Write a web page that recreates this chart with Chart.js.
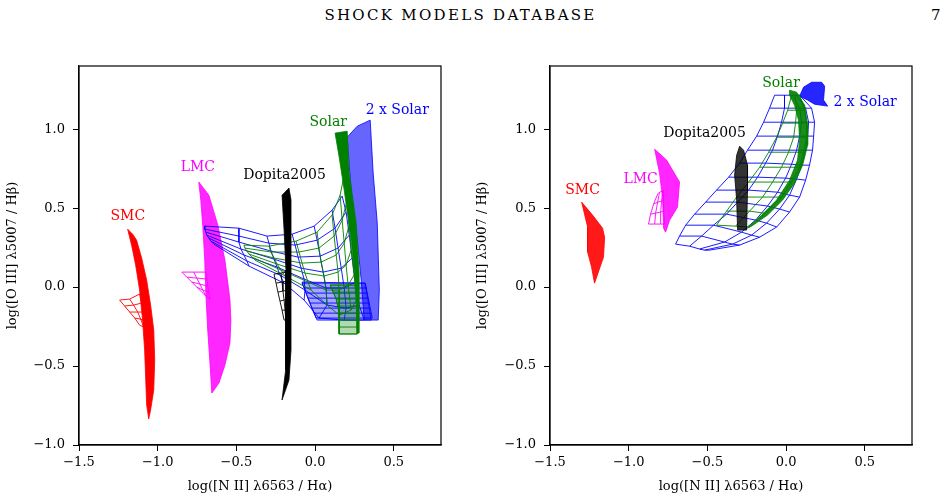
<!DOCTYPE html>
<html>
<head>
<meta charset="utf-8">
<script src="https://cdn.jsdelivr.net/npm/chart.js@4.4.0/dist/chart.umd.min.js"></script>
<style>
  body { margin: 0; background: #fff; width: 947px; height: 501px; overflow: hidden; position: relative; font-family: 'DejaVu Serif', serif; }
  #head { position: absolute; top: 8px; left: 0; width: 921px; text-align: center; font-size: 15px; line-height: 15px; letter-spacing: 2.3px; }
  #page { position: absolute; top: 8px; left: 931px; font-size: 15px; line-height: 15px; }
  .box { position: absolute; top: 0; height: 501px; }
</style>
</head>
<body>
<div id="head">SHOCK MODELS DATABASE</div>
<div id="page">7</div>
<div class="box" style="left:0;width:470px"><canvas id="left"></canvas></div>
<div class="box" style="left:470px;width:477px"><canvas id="right"></canvas></div>
<script>
// axis ticks
var xTicks = [-1.5, -1.0, -0.5, 0.0, 0.5];
var yTicks = [-1.0, -0.5, 0.0, 0.5, 1.0];

// model labels
var tagNames = ['SMC', 'LMC', 'Dopita2005', 'Solar', '2 x Solar'];
var tagColors = ['#ff0000', '#ff00ff', '#000000', '#008000', '#0000ff'];
var leftTagPos = [[-1.19, 0.45], [-0.745, 0.76], [-0.194, 0.709], [0.083, 1.044], [0.522, 1.12]];
var rightTagPos = [[-1.293, 0.614], [-0.924, 0.684], [-0.518, 0.975], [-0.032, 1.291], [0.502, 1.171]];

// ---- left panel ----
var smcBandL = [[-1.191,0.367],[-1.166,0.266],[-1.140,0.139],[-1.115,-0.019],[-1.096,-0.209],[-1.083,-0.399],[-1.076,-0.589],[-1.070,-0.747],[-1.057,-0.835],[-1.045,-0.778],[-1.025,-0.652],[-1.019,-0.462],[-1.025,-0.272],[-1.045,-0.114],[-1.070,0.044],[-1.102,0.184],[-1.134,0.297],[-1.159,0.335]];
var smcWingL = [
  [[-1.242,-0.082],[-1.178,-0.076],[-1.115,-0.044]],
  [[-1.210,-0.120],[-1.153,-0.114],[-1.102,-0.101]],
  [[-1.178,-0.158],[-1.127,-0.158],[-1.089,-0.158]],
  [[-1.146,-0.196],[-1.108,-0.203],[-1.083,-0.215]],
  [[-1.115,-0.241],[-1.089,-0.253],[-1.076,-0.278]]
];
var lmcBandL = [[-0.739,0.665],[-0.726,0.551],[-0.713,0.380],[-0.701,0.171],[-0.694,-0.038],[-0.682,-0.272],[-0.669,-0.462],[-0.656,-0.671],[-0.611,-0.608],[-0.573,-0.494],[-0.541,-0.354],[-0.535,-0.209],[-0.541,-0.082],[-0.573,0.171],[-0.618,0.392],[-0.675,0.582]];
var lmcWingL = [
  [[-0.847,0.095],[-0.771,0.095],[-0.694,0.095]],
  [[-0.815,0.063],[-0.752,0.057],[-0.688,0.051]],
  [[-0.783,0.032],[-0.732,0.019],[-0.682,0.006]],
  [[-0.752,0.000],[-0.713,-0.019],[-0.675,-0.032]],
  [[-0.720,-0.032],[-0.694,-0.057],[-0.669,-0.076]]
];
var dopBandL = [[-0.210,0.582],[-0.197,0.361],[-0.185,0.108],[-0.185,-0.146],[-0.185,-0.335],[-0.191,-0.525],[-0.210,-0.715],[-0.166,-0.589],[-0.153,-0.399],[-0.153,-0.209],[-0.153,0.044],[-0.153,0.297],[-0.153,0.551],[-0.166,0.627]];
var dopMeshL = [
  [[-0.261,0.082],[-0.217,0.089],[-0.172,0.095]],
  [[-0.248,0.025],[-0.210,0.032],[-0.172,0.038]],
  [[-0.236,-0.032],[-0.204,-0.025],[-0.172,-0.019]],
  [[-0.223,-0.089],[-0.197,-0.082],[-0.172,-0.076]],
  [[-0.210,-0.146],[-0.191,-0.146],[-0.172,-0.139]],
  [[-0.197,-0.209],[-0.185,-0.209],[-0.172,-0.203]]
];
var blueMeshL = [
  [[-0.701,0.386],[-0.484,0.373],[-0.306,0.323],[-0.146,0.335],[-0.006,0.386],[0.108,0.487],[0.172,0.576]],
  [[-0.701,0.367],[-0.484,0.323],[-0.293,0.278],[-0.127,0.266],[0.013,0.297],[0.127,0.373],[0.197,0.475]],
  [[-0.694,0.348],[-0.484,0.285],[-0.280,0.228],[-0.108,0.190],[0.032,0.196],[0.146,0.247],[0.217,0.329]],
  [[-0.688,0.329],[-0.471,0.241],[-0.261,0.177],[-0.089,0.120],[0.051,0.095],[0.166,0.120],[0.236,0.184]],
  [[-0.675,0.310],[-0.452,0.203],[-0.242,0.127],[-0.070,0.051],[0.070,-0.006],[0.185,-0.006],[0.255,0.032]],
  [[-0.662,0.291],[-0.433,0.165],[-0.223,0.076],[-0.064,-0.019],[0.076,-0.114],[0.197,-0.133],[0.280,-0.114]],
  [[-0.643,0.272],[-0.420,0.133],[-0.197,0.025],[-0.070,-0.082],[0.025,-0.196],[0.185,-0.209],[0.312,-0.209]]
];
var blueStripL = [[0.204,0.949],[0.229,0.614],[0.268,0.297],[0.293,0.044],[0.312,-0.209],[0.401,-0.209],[0.408,-0.019],[0.395,0.405],[0.369,0.722],[0.350,1.057],[0.268,1.019]];
var blueBlockL = [[-0.083,0.032],[-0.051,-0.057],[-0.019,-0.139],[0.013,-0.209],[0.357,-0.209],[0.318,0.025]];
var blueBlockEdgeA = [[-0.083,0.025],[-0.070,-0.006],[-0.057,-0.038],[-0.045,-0.070],[-0.032,-0.101],[-0.019,-0.133],[-0.006,-0.165],[0.006,-0.196]];
var blueBlockEdgeB = [[0.318,0.025],[0.325,-0.006],[0.331,-0.038],[0.338,-0.070],[0.344,-0.101],[0.350,-0.133],[0.357,-0.165],[0.363,-0.196]];
var greenMeshL = [
  [[-0.452,0.266],[-0.293,0.259],[-0.121,0.291],[0.013,0.348],[0.108,0.456],[0.159,0.582],[0.185,0.709]],
  [[-0.446,0.247],[-0.280,0.222],[-0.102,0.222],[0.025,0.247],[0.121,0.323],[0.172,0.424],[0.204,0.551]],
  [[-0.433,0.228],[-0.261,0.184],[-0.083,0.152],[0.038,0.158],[0.134,0.203],[0.185,0.278],[0.217,0.392]],
  [[-0.420,0.209],[-0.242,0.146],[-0.064,0.089],[0.057,0.070],[0.146,0.095],[0.197,0.139],[0.229,0.234]],
  [[-0.401,0.190],[-0.217,0.108],[-0.045,0.032],[0.070,-0.019],[0.153,-0.019],[0.210,0.013],[0.248,0.076]],
  [[-0.382,0.171],[-0.191,0.070],[-0.025,-0.019],[0.076,-0.114],[0.153,-0.177],[0.229,-0.146],[0.261,-0.082]]
];
var greenStripL = [[0.127,0.975],[0.153,0.823],[0.185,0.614],[0.229,0.297],[0.261,-0.019],[0.268,-0.291],[0.280,-0.291],[0.280,0.089],[0.261,0.405],[0.217,0.722],[0.204,0.987]];
var greenBlockL = [[0.096,0.013],[0.134,-0.076],[0.153,-0.165],[0.153,-0.297],[0.268,-0.297],[0.261,0.013]];
var greenBlockEdgeA = [[0.096,0.013],[0.115,-0.032],[0.134,-0.076],[0.146,-0.120],[0.153,-0.165],[0.153,-0.209],[0.153,-0.253],[0.153,-0.297]];
var greenBlockEdgeB = [[0.261,0.013],[0.261,-0.032],[0.268,-0.076],[0.268,-0.120],[0.268,-0.165],[0.268,-0.209],[0.268,-0.253],[0.268,-0.297]];

// ---- right panel ----
var smcBandR = [[-1.299,0.538],[-1.261,0.380],[-1.261,0.222],[-1.236,0.127],[-1.217,0.025],[-1.160,0.190],[-1.153,0.316],[-1.166,0.373],[-1.230,0.456]];
var lmcBandR = [[-0.835,0.873],[-0.759,0.804],[-0.677,0.665],[-0.690,0.506],[-0.740,0.424],[-0.766,0.348],[-0.778,0.373],[-0.785,0.570],[-0.804,0.722]];
var lmcWingR = [
  [[-0.874,0.399],[-0.835,0.399],[-0.797,0.399],[-0.772,0.399]],
  [[-0.861,0.462],[-0.829,0.468],[-0.797,0.475],[-0.778,0.481]],
  [[-0.842,0.525],[-0.816,0.538],[-0.791,0.544],[-0.778,0.551]],
  [[-0.816,0.589],[-0.804,0.601],[-0.785,0.608],[-0.778,0.614]]
];
var dopBandR = [[-0.295,0.892],[-0.270,0.867],[-0.245,0.772],[-0.245,0.614],[-0.251,0.361],[-0.308,0.361],[-0.314,0.551],[-0.327,0.709],[-0.314,0.835]];
var blueInnerR = [[-0.073,1.215],[-0.105,1.133],[-0.143,1.044],[-0.187,0.956],[-0.245,0.867],[-0.295,0.785],[-0.365,0.696],[-0.442,0.614],[-0.511,0.538],[-0.581,0.462],[-0.638,0.392],[-0.677,0.323],[-0.702,0.272]];
var blueMid1R = [[-0.010,1.215],[-0.010,1.133],[-0.029,1.044],[-0.054,0.956],[-0.086,0.867],[-0.130,0.785],[-0.181,0.696],[-0.238,0.614],[-0.308,0.538],[-0.378,0.462],[-0.461,0.392],[-0.537,0.323],[-0.613,0.259]];
var blueMid2R = [[0.041,1.215],[0.086,1.133],[0.098,1.044],[0.086,0.956],[0.067,0.867],[0.035,0.778],[-0.003,0.690],[-0.054,0.601],[-0.118,0.513],[-0.194,0.424],[-0.283,0.348],[-0.391,0.285],[-0.550,0.241]];
var blueMid3R = [[0.067,1.215],[0.124,1.133],[0.143,1.044],[0.137,0.956],[0.124,0.867],[0.098,0.772],[0.067,0.684],[0.022,0.582],[-0.041,0.494],[-0.124,0.405],[-0.219,0.329],[-0.340,0.272],[-0.518,0.234]];
var blueOuterR = [[0.086,1.215],[0.162,1.133],[0.181,1.044],[0.175,0.956],[0.168,0.867],[0.149,0.772],[0.124,0.677],[0.086,0.570],[0.022,0.475],[-0.060,0.380],[-0.168,0.316],[-0.295,0.266],[-0.486,0.234]];
var blueKnobR = [[0.086,1.209],[0.111,1.266],[0.162,1.297],[0.226,1.297],[0.245,1.272],[0.238,1.184],[0.264,1.146],[0.181,1.158],[0.137,1.184]];
var greenLeftR = [[0.035,1.215],[0.010,1.120],[-0.022,1.038],[-0.060,0.949],[-0.111,0.854],[-0.168,0.759],[-0.238,0.665],[-0.314,0.570],[-0.378,0.481],[-0.442,0.392]];
var greenMidR = [[0.060,1.215],[0.067,1.120],[0.060,1.038],[0.048,0.949],[0.016,0.854],[-0.029,0.759],[-0.086,0.665],[-0.149,0.570],[-0.232,0.481],[-0.321,0.386]];
var greenRightR = [[0.086,1.215],[0.118,1.120],[0.130,1.038],[0.130,0.949],[0.111,0.854],[0.086,0.759],[0.035,0.665],[-0.029,0.570],[-0.137,0.468],[-0.245,0.380]];
var greenStripR = [[0.022,1.247],[0.067,1.234],[0.118,1.152],[0.137,1.025],[0.137,0.899],[0.105,0.772],[0.054,0.658],[-0.022,0.551],[-0.118,0.456],[-0.219,0.386],[-0.245,0.373],[-0.168,0.443],[-0.060,0.551],[0.022,0.677],[0.073,0.804],[0.086,0.930],[0.079,1.057],[0.054,1.152],[0.022,1.215]];

var FONT = "'DejaVu Serif', serif";

// a grid: every row as a line, then every column as a line
function mesh(rows) {
    var pts = [];
    rows.forEach(function(r) {
        r.forEach(function(p) { pts.push({x: p[0], y: p[1]}); });
        pts.push({x: null, y: null});
    });
    for (var j = 0; j < rows[0].length; j++) {
        rows.forEach(function(r) { pts.push({x: r[j][0], y: r[j][1]}); });
        pts.push({x: null, y: null});
    }
    return pts;
}
function poly(p) {
    return p.concat([p[0]]).map(function(q) { return {x: q[0], y: q[1]}; });
}
function lines(rows, color, w) {
    return {data: mesh(rows), showLine: true, borderColor: color, borderWidth: w || 0.9,
            pointRadius: 0, fill: false, spanGaps: false};
}
function area(p, color, bg) {
    return {data: poly(p), showLine: true, borderColor: color, borderWidth: 0.8,
            backgroundColor: bg, pointRadius: 0, fill: 'shape'};
}

var framePlugin = {
    id: 'frame',
    afterDraw: function(c) {
        var a = c.chartArea, g = c.ctx;
        g.save();
        g.strokeStyle = '#000';
        g.lineWidth = 1.2;
        g.strokeRect(a.left, a.top, a.right - a.left, a.bottom - a.top);
        g.restore();
    }
};
var tagPlugin = {
    id: 'tags',
    afterDatasetsDraw: function(c, args, opts) {
        var g = c.ctx;
        g.save();
        g.font = "14px 'DejaVu Serif'";
        g.textAlign = 'center';
        g.textBaseline = 'middle';
        opts.pos.forEach(function(p, i) {
            g.fillStyle = tagColors[i];
            g.fillText(tagNames[i], c.scales.x.getPixelForValue(p[0]), c.scales.y.getPixelForValue(p[1]));
        });
        g.restore();
    }
};

function fmt(v) {
    return (v < 0 ? '\u2212' : '') + Math.abs(v).toFixed(1);
}

function makeChart(id, datasets, tagPos, yWidth, padRight) {
    return new Chart(document.getElementById(id), {
        type: 'scatter',
        data: {datasets: datasets},
        options: {
            responsive: true,
            maintainAspectRatio: false,
            animation: false,
            layout: {padding: {top: 66, right: padRight, left: 0, bottom: 0}},
            plugins: {legend: {display: false}, tooltip: {enabled: false}, tags: {pos: tagPos}},
            scales: {
                x: {
                    type: 'linear', min: -1.5, max: 0.8,
                    afterBuildTicks: function(s) { s.ticks = xTicks.map(function(v) { return {value: v}; }); },
                    afterFit: function(s) { s.height = 56; },
                    ticks: {color: '#000', font: {family: FONT, size: 13}, padding: 4, callback: fmt, maxRotation: 0},
                    grid: {drawOnChartArea: false, color: '#000', tickLength: 6, tickWidth: 1},
                    border: {color: '#000', width: 1.2},
                    title: {display: true, text: 'log([N II] \u03bb6563 / H\u03b1)', color: '#000',
                            font: {family: FONT, size: 13}, padding: {top: 0, bottom: 7}}
                },
                y: {
                    type: 'linear', min: -1.0, max: 1.4,
                    afterBuildTicks: function(s) { s.ticks = yTicks.map(function(v) { return {value: v}; }); },
                    afterFit: function(s) { s.width = yWidth; },
                    ticks: {color: '#000', font: {family: FONT, size: 13}, padding: 8, callback: fmt},
                    grid: {drawOnChartArea: false, color: '#000', tickLength: 6, tickWidth: 1},
                    border: {color: '#000', width: 1.2},
                    title: {display: true, text: 'log([O III] \u03bb5007 / H\u03b2)', color: '#000',
                            font: {family: FONT, size: 13}, padding: {top: 5, bottom: 0}}
                }
            }
        },
        plugins: [framePlugin, tagPlugin]
    });
}

// first dataset ends up on top
var leftSets = [
    area(dopBandL, '#000000', '#000000'),
    lines(dopMeshL, '#000000'),
    area(greenStripL, '#008000', '#008000'),
    area(greenBlockL, '#008000', 'rgba(0,128,0,0.3)'),
    lines([greenBlockEdgeA, greenBlockEdgeB], '#008000'),
    lines(greenMeshL, '#008000'),
    area(blueStripL, '#0000ff', 'rgba(0,0,255,0.6)'),
    area(blueBlockL, '#0000ff', 'rgba(0,0,255,0.35)'),
    lines([blueBlockEdgeA, blueBlockEdgeB], '#0000ff'),
    lines(blueMeshL, '#0000ff'),
    area(lmcBandL, '#ff00ff', 'rgba(255,0,255,0.85)'),
    lines(lmcWingL, '#ff00ff'),
    area(smcBandL, '#ff0000', '#ff0000'),
    lines(smcWingL, '#ff0000')
];
var rightSets = [
    area(dopBandR, '#000000', 'rgba(0,0,0,0.8)'),
    area(greenStripR, '#008000', 'rgba(0,128,0,0.9)'),
    lines([greenLeftR, greenMidR, greenRightR], '#008000'),
    area(blueKnobR, '#0000ff', 'rgba(0,0,255,0.85)'),
    lines([blueInnerR, blueMid1R, blueMid2R, blueMid3R, blueOuterR], '#0000ff'),
    area(lmcBandR, '#ff00ff', 'rgba(255,0,255,0.85)'),
    lines(lmcWingR, '#ff00ff'),
    area(smcBandR, '#ff0000', 'rgba(255,0,0,0.9)')
];

makeChart('left', leftSets, leftTagPos, 79, 29);
makeChart('right', rightSets, rightTagPos, 80, 35);
</script>
</body>
</html>
